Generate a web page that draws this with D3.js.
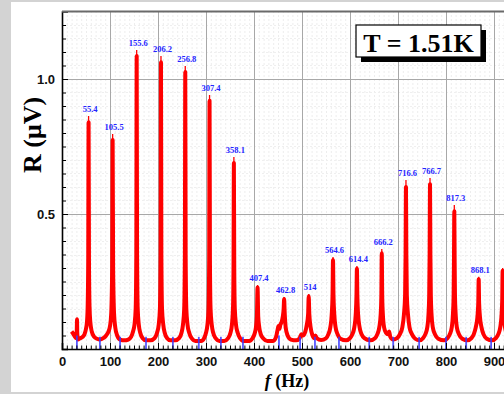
<!DOCTYPE html>
<html>
<head>
<meta charset="utf-8">
<script src="https://cdn.jsdelivr.net/npm/d3@7"></script>
<style>
  body { margin: 0; background: #d3d3d3; overflow: hidden; }
  svg { display: block; }
</style>
</head>
<body>
<svg id="chart" width="504" height="394"></svg>
<script>
// resonance peaks: frequency (Hz), tip value (uV), label
const peakF = [55.4, 105.5, 155.6, 206.2, 256.8, 307.4, 358.1, 407.4, 462.8, 514,
               564.6, 614.4, 666.2, 716.6, 766.7, 817.3, 868.1, 918];
const peakTip = [0.863, 0.796, 1.107, 1.085, 1.048, 0.941, 0.711, 0.237, 0.193, 0.204,
                 0.341, 0.307, 0.370, 0.626, 0.633, 0.533, 0.268, 0.30];
const peakLabel = ["55.4", "105.5", "155.6", "206.2", "256.8", "307.4", "358.1", "407.4", "462.8", "514",
                   "564.6", "614.4", "666.2", "716.6", "766.7", "817.3", "868.1", ""];

// measured R(f) trace, [f, R]
const trace = [
  [20,0.065],[24,0.055],[27,0.045],[30,0.04],[30.8,0.07],[31.3,0.11],[31.8,0.06],[33,0.035],[38,0.04],[43,0.045],
  [47,0.055],[50,0.075],[52,0.1],[53.5,0.16],[54.6,0.32],[55.4,0.84],[56.2,0.32],[57.3,0.16],[59,0.1],[62,0.065],
  [67,0.045],[73,0.038],[79,0.035],[86,0.04],[92,0.05],[97,0.065],[100,0.085],[102.5,0.13],[104.5,0.3],[105.5,0.774],
  [106.5,0.3],[108.5,0.13],[111,0.08],[115,0.05],[121,0.035],[130,0.032],[138,0.035],[144,0.045],[148,0.065],[151,0.09],
  [153.5,0.15],[154.8,0.35],[155.6,1.085],[156.4,0.35],[157.7,0.15],[160,0.09],[163,0.06],[168,0.04],[175,0.032],[185,0.032],
  [193,0.04],[198,0.06],[201.5,0.09],[204,0.15],[205.4,0.35],[206.2,1.062],[207,0.35],[208.4,0.15],[211,0.09],[214,0.06],
  [219,0.04],[226,0.032],[236,0.032],[244,0.04],[249,0.06],[252,0.09],[254.6,0.15],[256,0.35],[256.8,1.026],[257.6,0.35],
  [259,0.15],[261.5,0.09],[265,0.06],[270,0.04],[278,0.03],[290,0.03],[296,0.04],[300,0.06],[303,0.09],[305.3,0.15],
  [306.6,0.33],[307.4,0.919],[308.2,0.33],[309.5,0.15],[312,0.09],[315,0.06],[320,0.04],[328,0.03],[338,0.03],[346,0.04],
  [351,0.06],[354,0.09],[356.2,0.15],[357.3,0.3],[358.1,0.689],[358.9,0.3],[360,0.15],[362.5,0.09],[366,0.06],[371,0.04],
  [378,0.03],[390,0.03],[397,0.04],[401,0.055],[404,0.08],[406,0.12],[407.4,0.228],[408.8,0.12],[411,0.08],[414,0.055],
  [419,0.04],[428,0.03],[440,0.03],[446,0.045],[449,0.07],[451,0.085],[453,0.075],[455,0.09],[457.5,0.1],[460,0.12],
  [461.8,0.15],[462.8,0.185],[463.8,0.14],[466,0.08],[470,0.05],[477,0.035],[488,0.032],[495,0.04],[499,0.055],[502,0.05],
  [506,0.06],[510,0.09],[512.8,0.13],[514,0.195],[515.2,0.13],[518,0.08],[522,0.05],[526,0.04],[528,0.05],[531,0.04],
  [540,0.033],[550,0.04],[555,0.055],[559,0.08],[562,0.13],[563.6,0.2],[564.6,0.33],[565.6,0.2],[567.2,0.13],[570,0.08],
  [574,0.055],[580,0.038],[592,0.032],[600,0.04],[605,0.055],[609,0.08],[612,0.13],[613.5,0.2],[614.4,0.297],[615.3,0.2],
  [616.8,0.13],[620,0.08],[624,0.055],[630,0.04],[642,0.032],[652,0.04],[657,0.055],[661,0.08],[664,0.13],[665.3,0.2],
  [666.2,0.355],[667.1,0.2],[668.4,0.13],[671,0.08],[675,0.06],[679,0.055],[681.5,0.065],[684,0.045],[690,0.035],[698,0.04],
  [704,0.055],[709,0.08],[712.5,0.13],[714.8,0.2],[715.8,0.35],[716.6,0.6],[717.4,0.35],[718.4,0.2],[720.7,0.13],[724,0.08],
  [729,0.055],[736,0.038],[745,0.032],[752,0.04],[757,0.055],[761,0.08],[763.6,0.13],[765,0.2],[765.9,0.35],[766.7,0.61],
  [767.5,0.35],[768.4,0.2],[769.8,0.13],[772.5,0.08],[777,0.055],[784,0.038],[796,0.032],[803,0.04],[808,0.055],[812,0.08],
  [814.5,0.13],[815.9,0.2],[816.6,0.33],[817.3,0.51],[818,0.33],[818.7,0.2],[820.1,0.13],[822.6,0.08],[827,0.055],[834,0.038],
  [845,0.032],[853,0.04],[858,0.055],[862,0.08],[865.5,0.12],[867.2,0.17],[868.1,0.258],[869,0.17],[870.7,0.12],[874,0.08],
  [878,0.055],[885,0.038],[896,0.032],[904,0.04],[909,0.055],[913,0.08],[915.5,0.12],[917.1,0.18],[918,0.29],[918.9,0.18],
  [920.5,0.12],[923,0.08],[927,0.055],[934,0.038],[945,0.032],[955,0.04]
];

// minima markers (blue drop lines)
const troughF = [31, 79, 121, 175, 231, 285, 331, 377, 452, 496, 527, 577, 640, 690, 744, 800, 842, 894];
const troughR = [0.05, 0.045, 0.045, 0.045, 0.045, 0.045, 0.045, 0.045, 0.05, 0.045, 0.045, 0.045, 0.045, 0.045, 0.045, 0.045, 0.045, 0.045];

const xTicks = [0, 100, 200, 300, 400, 500, 600, 700, 800, 900];
const yTicks = [0.5, 1.0];

const svg = d3.select('#chart');
const W = 504, H = 394;
const margin = {left: 62, top: 11.5, bottom: 45};

const x = d3.scaleLinear().domain([0, 1000]).range([margin.left, margin.left + 480]);
const y = d3.scaleLinear().domain([0, 1.25]).range([H - margin.bottom, margin.top]);

// white page panel
svg.append('rect').attr('x', 11).attr('y', 2).attr('width', W - 11).attr('height', 390).attr('fill', '#fff');

svg.append('defs').append('clipPath').attr('id', 'plotclip')
  .append('rect').attr('x', x(0)).attr('y', y(1.25)).attr('width', x(1000) - x(0)).attr('height', y(0) - y(1.25));

const grid = svg.append('g').attr('class', 'grid');
// minor grid
grid.selectAll('line.vminor').data(d3.range(10, 1000, 10)).enter().append('line')
  .attr('x1', d => x(d) + 0.5).attr('x2', d => x(d) + 0.5).attr('y1', y(0)).attr('y2', y(1.25))
  .attr('stroke', '#ededed').attr('stroke-dasharray', '2,2');
grid.selectAll('line.hminor').data(d3.range(0.05, 1.25, 0.05)).enter().append('line')
  .attr('x1', x(0)).attr('x2', x(1000)).attr('y1', d => Math.round(y(d)) + 0.5).attr('y2', d => Math.round(y(d)) + 0.5)
  .attr('stroke', '#efefef').attr('stroke-dasharray', '2,2');
// major grid
grid.selectAll('line.vmajor').data(xTicks.slice(1)).enter().append('line')
  .attr('x1', d => x(d) + 0.5).attr('x2', d => x(d) + 0.5).attr('y1', y(0)).attr('y2', y(1.25))
  .attr('stroke', '#a8a8a8');
grid.selectAll('line.hmajor').data(yTicks).enter().append('line')
  .attr('x1', x(0)).attr('x2', x(1000)).attr('y1', d => Math.round(y(d)) + 0.5).attr('y2', d => Math.round(y(d)) + 0.5)
  .attr('stroke', '#a8a8a8');

const plot = svg.append('g').attr('clip-path', 'url(#plotclip)');

const line = d3.line().x(d => x(d[0])).y(d => y(d[1])).curve(d3.curveMonotoneX);
plot.append('path').datum(trace)
  .attr('d', line)
  .attr('fill', 'none').attr('stroke', '#ff0000').attr('stroke-width', 4)
  .attr('stroke-linejoin', 'round');

// thin peak tips above the thick trace
const topOf = f => trace.find(p => p[0] === f)[1];
plot.selectAll('line.tip').data(peakF).enter().append('line')
  .attr('x1', d => x(d)).attr('x2', d => x(d))
  .attr('y1', d => y(topOf(d))).attr('y2', (d, i) => y(peakTip[i]))
  .attr('stroke', '#ff0000').attr('stroke-width', 1.3);

// blue drop lines at minima
plot.selectAll('line.trough').data(troughF).enter().append('line')
  .attr('x1', d => x(d)).attr('x2', d => x(d))
  .attr('y1', y(0)).attr('y2', (d, i) => y(troughR[i]))
  .attr('stroke', '#3b3bff').attr('stroke-width', 1.8).attr('opacity', 0.85);

// peak labels
plot.selectAll('text.peak').data(peakF).enter().append('text')
  .attr('x', d => x(d) + 1.5).attr('y', (d, i) => y(peakTip[i]) - 4)
  .attr('text-anchor', 'middle')
  .attr('font-family', 'Liberation Serif, Times New Roman, serif')
  .attr('font-weight', 'bold').attr('font-size', 8.5)
  .attr('fill', '#2424ff')
  .text((d, i) => peakLabel[i]);

// axes
const sans = 'Liberation Sans, Arial, sans-serif';
const serif = 'Liberation Serif, Times New Roman, serif';

svg.append('g').attr('transform', `translate(0,${y(0)})`)
  .call(d3.axisBottom(x).tickValues(d3.range(0, 1001, 10)).tickSize(-3.5).tickFormat(''))
  .call(g => g.select('.domain').remove());
svg.append('g').attr('transform', `translate(0,${y(0)})`)
  .call(d3.axisBottom(x).tickValues(xTicks).tickSize(-6).tickPadding(8).tickFormat(d3.format('d')))
  .call(g => g.select('.domain').attr('stroke-width', 1.6))
  .call(g => g.selectAll('text').attr('font-family', sans).attr('font-weight', 'bold').attr('font-size', 13).attr('fill', '#111'));

svg.append('g').attr('transform', `translate(${x(0)},0)`)
  .call(d3.axisLeft(y).tickValues(d3.range(0.05, 1.25, 0.05)).tickSize(-4).tickFormat(''))
  .call(g => g.select('.domain').remove());
svg.append('g').attr('transform', `translate(${x(0)},0)`)
  .call(d3.axisLeft(y).tickValues(yTicks).tickSize(-6).tickPadding(7).tickFormat(d3.format('.1f')))
  .call(g => g.select('.domain').attr('stroke-width', 1.6))
  .call(g => g.selectAll('text').attr('font-family', sans).attr('font-weight', 'bold').attr('font-size', 13).attr('fill', '#111'));

// top frame
svg.append('line').attr('x1', x(0)).attr('x2', W).attr('y1', y(1.25)).attr('y2', y(1.25))
  .attr('stroke', '#6a6a6a').attr('stroke-width', 2);

// axis titles
svg.append('text')
  .attr('transform', 'translate(41,135) rotate(-90)')
  .attr('text-anchor', 'middle')
  .attr('font-family', serif).attr('font-weight', 'bold').attr('font-size', 26)
  .text('R (μV)');

const xt = svg.append('text')
  .attr('x', 287).attr('y', 387)
  .attr('text-anchor', 'middle')
  .attr('font-family', serif).attr('font-weight', 'bold').attr('font-size', 18);
xt.append('tspan').attr('font-style', 'italic').text('f');
xt.append('tspan').text(' (Hz)');

// temperature box with shadow
const box = svg.append('g').attr('transform', 'translate(356,25)');
box.append('rect').attr('x', 5).attr('y', 5).attr('width', 125).attr('height', 32).attr('fill', '#000');
box.append('rect').attr('x', 0).attr('y', 0).attr('width', 125).attr('height', 32)
  .attr('fill', '#fff').attr('stroke', '#000').attr('stroke-width', 1.2);
box.append('text').attr('x', 62.5).attr('y', 26.5)
  .attr('text-anchor', 'middle')
  .attr('font-family', serif).attr('font-weight', 'bold').attr('font-size', 26)
  .text('T = 1.51K');
</script>
</body>
</html>
